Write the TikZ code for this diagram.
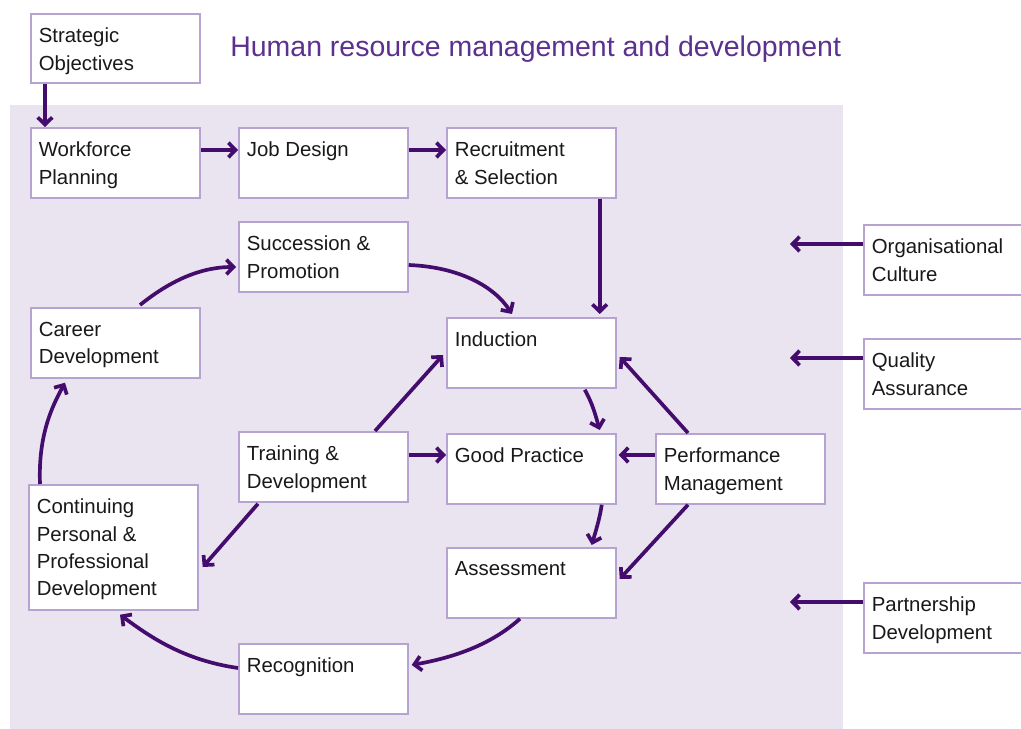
\documentclass[tikz,border=0pt]{standalone}
\usepackage{fontspec}
\setmainfont{Liberation Sans}
\usetikzlibrary{arrows.meta,calc}

\definecolor{hrpurple}{RGB}{68,12,108}
\definecolor{hrtitle}{RGB}{92,48,142}
\definecolor{hrback}{RGB}{233,228,240}
\definecolor{hrline}{RGB}{183,163,210}
\definecolor{hrtext}{RGB}{25,25,25}

\begin{document}
\begin{tikzpicture}[x=0.02cm, y=-0.02cm,
    hrbox/.style={draw=hrline, line width=1pt, fill=white, anchor=north west,
        minimum width=3.38cm, minimum height=1.4cm, inner sep=0pt},
    hrtxt/.style={anchor=north west, inner sep=0pt, xshift=0.17cm, yshift=-0.29cm,
        align=left, text=hrtext, font=\fontsize{11.6}{15.6}\selectfont},
    hrarrow/.style={draw=hrpurple, line width=2.1pt,
        -{Straight Barb[length=1.4mm, width=2.9mm]}}]

        \useasboundingbox (0,0) rectangle (1021,729);

        \fill[hrback] (10,105) rectangle (843,729);

        \node (title) at (230, 49) [anchor=west, inner sep=0pt, text=hrtitle, font=\fontsize{16.2}{19}\selectfont] {Human resource management and development};

        % Define nodes (boxes)

        \node (strat) at (30, 13) [hrbox, minimum height=1.38cm, label={[hrtxt]north west:Strategic\\Objectives}] {};

        \node (wfp) at (30, 127) [hrbox, label={[hrtxt]north west:Workforce\\Planning}] {};

        \node (job) at (238, 127) [hrbox, label={[hrtxt]north west:Job Design}] {};

        \node (recr) at (446, 127) [hrbox, label={[hrtxt]north west:Recruitment\\\& Selection}] {};

        \node (succ) at (238, 221) [hrbox, label={[hrtxt]north west:Succession \&\\Promotion}] {};

        \node (career) at (30, 307) [hrbox, label={[hrtxt]north west:Career\\Development}] {};

        \node (induct) at (446, 317) [hrbox, label={[hrtxt]north west:Induction}] {};

        \node (train) at (238, 431) [hrbox, label={[hrtxt]north west:Training \&\\Development}] {};

        \node (good) at (446, 433) [hrbox, label={[hrtxt]north west:Good Practice}] {};

        \node (perf) at (655, 433) [hrbox, label={[hrtxt]north west:Performance\\Management}] {};

        \node (cppd) at (28, 484) [hrbox, minimum height=2.5cm, label={[hrtxt]north west:Continuing\\Personal \&\\Professional\\Development}] {};

        \node (assess) at (446, 547) [hrbox, label={[hrtxt]north west:Assessment}] {};

        \node (recog) at (238, 643) [hrbox, label={[hrtxt]north west:Recognition}] {};

        \node (orgc) at (863, 224) [hrbox, minimum width=4cm, label={[hrtxt]north west:Organisational\\Culture}] {};

        \node (qual) at (863, 338) [hrbox, minimum width=4cm, label={[hrtxt]north west:Quality\\Assurance}] {};

        \node (partn) at (863, 582) [hrbox, minimum width=4cm, label={[hrtxt]north west:Partnership\\Development}] {};

        \coordinate (orgend) at (790, 244);
        \coordinate (qualend) at (790, 358);
        \coordinate (partnend) at (790, 602);

        % Draw arrows between nodes

        \draw[hrarrow] ($(strat.south west)+(15,0)$) -- ($(wfp.north west)+(15,0)$);

        \draw[hrarrow] ($(wfp.north east)+(0,23)$) -- ($(job.north west)+(0,23)$);

        \draw[hrarrow] ($(job.north east)+(0,23)$) -- ($(recr.north west)+(0,23)$);

        \draw[hrarrow] ($(recr.south east)+(-17,0)$) -- ($(induct.north east)+(-17,-3)$);

        \draw[hrarrow] ($(succ.north east)+(0,44)$) .. controls +(50,2) and +(-18,-28) .. ($(induct.north west)+(66,-3)$);

        \draw[hrarrow] ($(career.north west)+(110,-2)$) .. controls +(25,-20) and +(-40,0) .. ($(succ.north west)+(-2,46)$);

        \draw[hrarrow] ($(cppd.north west)+(12,0)$) .. controls +(-2,-50) and +(-12,22) .. ($(career.south west)+(35,4)$);

        \draw[hrarrow] ($(train.south west)+(20,1)$) -- ($(cppd.north east)+(4,83)$);

        \draw[hrarrow] ($(recog.north west)+(0,25)$) .. controls +(-55,-8) and +(30,22) .. ($(cppd.south west)+(92,4)$);

        \draw[hrarrow] ($(assess.south west)+(74,0)$) .. controls +(-28,25) and +(45,-8) .. ($(recog.north east)+(3,22)$);

        \draw[hrarrow] ($(train.north west)+(137,0)$) -- ($(induct.north west)+(-3,38)$);

        \draw[hrarrow] ($(train.north east)+(0,24)$) -- ($(good.north west)+(0,22)$);

        \draw[hrarrow] ($(induct.south east)+(-32,1)$) .. controls +(8,14) and +(-4,-14) .. ($(good.north east)+(-17,-3)$);

        \draw[hrarrow] ($(perf.north west)+(33,0)$) -- ($(induct.north east)+(3,40)$);

        \draw[hrarrow] ($(perf.north west)+(0,22)$) -- ($(good.north east)+(2,22)$);

        \draw[hrarrow] ($(good.south east)+(-15,0)$) .. controls +(-2,14) and +(4,-14) .. ($(assess.north east)+(-25,-2)$);

        \draw[hrarrow] ($(perf.south west)+(33,0)$) -- ($(assess.north east)+(3,32)$);

        \draw[hrarrow] ($(orgc.north west)+(0,20)$) -- (orgend);

        \draw[hrarrow] ($(qual.north west)+(0,20)$) -- (qualend);

        \draw[hrarrow] ($(partn.north west)+(0,20)$) -- (partnend);

    \end{tikzpicture}
\end{document}
